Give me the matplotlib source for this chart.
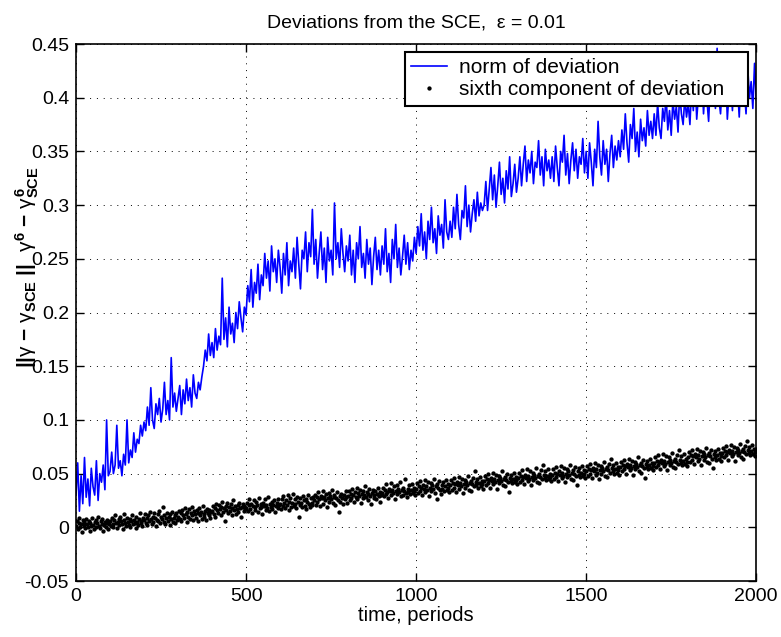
import numpy as np
import matplotlib
matplotlib.use('Agg')
import matplotlib.pyplot as plt

plt.rcParams['font.family'] = ['Liberation Sans', 'DejaVu Sans']
plt.rcParams['mathtext.fontset'] = 'custom'
plt.rcParams['mathtext.rm'] = 'Liberation Sans'
plt.rcParams['mathtext.it'] = 'Liberation Sans'
plt.rcParams['mathtext.bf'] = 'Liberation Sans:bold'

# norm of deviation, one value every 5 periods
norm_dev = [
    0.030, 0.060, 0.015, 0.048, 0.022, 0.065, 0.028, 0.045, 0.020, 0.055, 0.038, 0.030, 0.062, 0.025, 0.050, 0.042, 0.058, 0.035, 0.100, 0.048,
    0.052, 0.070, 0.050, 0.058, 0.095, 0.055, 0.062, 0.048, 0.068, 0.058, 0.100, 0.060, 0.072, 0.065, 0.088, 0.070, 0.082, 0.078, 0.095, 0.085,
    0.098, 0.090, 0.112, 0.095, 0.130, 0.100, 0.092, 0.115, 0.105, 0.120, 0.098, 0.110, 0.135, 0.105, 0.118, 0.100, 0.158, 0.112, 0.125, 0.108,
    0.120, 0.132, 0.105, 0.128, 0.115, 0.138, 0.118, 0.130, 0.112, 0.142, 0.125, 0.120, 0.135, 0.128, 0.140, 0.150, 0.165, 0.155, 0.180, 0.160,
    0.172, 0.158, 0.185, 0.165, 0.178, 0.170, 0.232, 0.175, 0.195, 0.168, 0.205, 0.180, 0.190, 0.172, 0.200, 0.185, 0.210, 0.195, 0.182, 0.205,
    0.198, 0.225, 0.210, 0.240, 0.205, 0.228, 0.218, 0.245, 0.212, 0.235, 0.225, 0.255, 0.232, 0.248, 0.220, 0.262, 0.238, 0.250, 0.228, 0.258,
    0.242, 0.218, 0.255, 0.235, 0.265, 0.225, 0.248, 0.238, 0.260, 0.232, 0.270, 0.245, 0.222, 0.258, 0.250, 0.275, 0.238, 0.265, 0.252, 0.296,
    0.245, 0.268, 0.232, 0.255, 0.275, 0.240, 0.260, 0.228, 0.270, 0.248, 0.258, 0.235, 0.302, 0.250, 0.265, 0.242, 0.278, 0.255, 0.238, 0.262,
    0.248, 0.272, 0.235, 0.258, 0.228, 0.265, 0.250, 0.280, 0.242, 0.255, 0.232, 0.268, 0.245, 0.260, 0.226, 0.252, 0.270, 0.240, 0.258, 0.235,
    0.262, 0.245, 0.278, 0.238, 0.255, 0.228, 0.268, 0.250, 0.282, 0.242, 0.260, 0.235, 0.252, 0.272, 0.245, 0.265, 0.240, 0.258, 0.248, 0.270,
    0.255, 0.280, 0.262, 0.292, 0.258, 0.275, 0.250, 0.285, 0.268, 0.298, 0.265, 0.278, 0.255, 0.290, 0.272, 0.282, 0.260, 0.305, 0.275, 0.268,
    0.285, 0.270, 0.298, 0.278, 0.310, 0.282, 0.268, 0.295, 0.288, 0.318, 0.280, 0.300, 0.275, 0.292, 0.305, 0.285, 0.312, 0.290, 0.302, 0.295,
    0.300, 0.322, 0.295, 0.315, 0.335, 0.305, 0.328, 0.298, 0.318, 0.340, 0.310, 0.325, 0.302, 0.332, 0.315, 0.345, 0.308, 0.320, 0.338, 0.312,
    0.325, 0.345, 0.318, 0.338, 0.355, 0.322, 0.342, 0.330, 0.350, 0.320, 0.340, 0.335, 0.360, 0.328, 0.345, 0.318, 0.352, 0.332, 0.342, 0.325,
    0.345, 0.322, 0.355, 0.335, 0.318, 0.350, 0.340, 0.365, 0.328, 0.348, 0.320, 0.342, 0.358, 0.332, 0.352, 0.325, 0.345, 0.338, 0.362, 0.330,
    0.350, 0.325, 0.358, 0.340, 0.318, 0.352, 0.335, 0.378, 0.345, 0.328, 0.360, 0.338, 0.352, 0.322, 0.348, 0.365, 0.335, 0.355, 0.342, 0.360,
    0.345, 0.370, 0.352, 0.385, 0.358, 0.340, 0.375, 0.362, 0.390, 0.350, 0.368, 0.345, 0.380, 0.360, 0.372, 0.355, 0.388, 0.365, 0.378, 0.362,
    0.385, 0.365, 0.395, 0.372, 0.362, 0.390, 0.378, 0.402, 0.370, 0.388, 0.365, 0.398, 0.380, 0.392, 0.368, 0.405, 0.385, 0.375, 0.400, 0.382,
    0.395, 0.375, 0.410, 0.388, 0.420, 0.380, 0.402, 0.392, 0.425, 0.385, 0.412, 0.398, 0.378, 0.415, 0.395, 0.428, 0.390, 0.446, 0.400, 0.385,
    0.412, 0.392, 0.425, 0.380, 0.405, 0.418, 0.388, 0.430, 0.398, 0.410, 0.382, 0.422, 0.395, 0.408, 0.385, 0.428, 0.400, 0.415, 0.390, 0.432,
    0.398,
]

# sixth component of deviation, one value every 2.5 periods
sixth_dev = [
    0.001, 0.006, -0.002, 0.004, 0.009, 0.000, 0.003, -0.004, 0.007, 0.002, 0.005, -0.001, 0.008, 0.003, 0.000, 0.006, -0.003, 0.004, 0.001, 0.009,
    0.002, -0.002, 0.005, 0.007, 0.000, 0.004, 0.010, 0.001, -0.001, 0.006, 0.003, 0.008, -0.003, 0.002, 0.005, 0.000, 0.007, 0.004, -0.002, 0.003,
    0.006, 0.001, 0.009, 0.003, 0.000, 0.007, 0.011, 0.004, -0.001, 0.005, 0.008, 0.002, 0.010, 0.006, 0.003, -0.002, 0.007, 0.012, 0.004, 0.001,
    0.009, 0.005, 0.002, 0.008, 0.000, 0.006, 0.011, 0.003, 0.007, 0.004, -0.001, 0.010, 0.005, 0.002, 0.008, 0.013, 0.004, 0.006, 0.001, 0.009,
    0.007, 0.012, 0.004, 0.009, 0.002, 0.011, 0.006, 0.014, 0.008, 0.003, 0.010, 0.005, 0.013, 0.009, 0.001, 0.007, 0.012, 0.006, 0.015, 0.004,
    0.010, 0.008, 0.019, 0.005, 0.011, 0.003, 0.009, 0.013, 0.006, 0.010, 0.002, 0.012, 0.008, 0.014, 0.005, 0.009, 0.011, 0.004, 0.013, 0.007,
    0.010, 0.015, 0.008, 0.013, 0.006, 0.016, 0.011, 0.009, 0.018, 0.012, 0.005, 0.014, 0.010, 0.017, 0.008, 0.013, 0.011, 0.019, 0.007, 0.015,
    0.012, 0.009, 0.016, 0.013, 0.006, 0.018, 0.011, 0.014, 0.008, 0.020, 0.012, 0.010, 0.015, 0.007, 0.017, 0.013, 0.011, 0.016, 0.009, 0.014,
    0.015, 0.020, 0.012, 0.018, 0.010, 0.022, 0.016, 0.013, 0.021, 0.017, 0.011, 0.019, 0.024, 0.014, 0.018, 0.006, 0.020, 0.016, 0.023, 0.013,
    0.019, 0.015, 0.022, 0.011, 0.018, 0.025, 0.016, 0.020, 0.012, 0.017, 0.021, 0.014, 0.023, 0.018, 0.010, 0.019, 0.022, 0.015, 0.020, 0.017,
    0.018, 0.023, 0.015, 0.021, 0.026, 0.017, 0.022, 0.013, 0.020, 0.025, 0.019, 0.016, 0.024, 0.021, 0.014, 0.027, 0.018, 0.022, 0.019, 0.012,
    0.023, 0.020, 0.026, 0.016, 0.021, 0.018, 0.028, 0.015, 0.022, 0.019, 0.024, 0.017, 0.021, 0.025, 0.014, 0.020, 0.023, 0.018, 0.026, 0.021,
    0.022, 0.017, 0.026, 0.020, 0.029, 0.023, 0.018, 0.025, 0.021, 0.030, 0.016, 0.024, 0.027, 0.019, 0.023, 0.031, 0.020, 0.026, 0.022, 0.018,
    0.028, 0.024, 0.010, 0.021, 0.027, 0.023, 0.019, 0.029, 0.025, 0.020, 0.026, 0.017, 0.024, 0.030, 0.022, 0.019, 0.027, 0.023, 0.021, 0.028,
    0.025, 0.030, 0.021, 0.028, 0.024, 0.033, 0.026, 0.020, 0.029, 0.027, 0.034, 0.022, 0.028, 0.025, 0.031, 0.019, 0.027, 0.032, 0.024, 0.029,
    0.026, 0.035, 0.023, 0.028, 0.030, 0.021, 0.027, 0.033, 0.025, 0.014, 0.029, 0.024, 0.031, 0.027, 0.022, 0.030, 0.026, 0.034, 0.028, 0.023,
    0.029, 0.034, 0.025, 0.031, 0.027, 0.036, 0.030, 0.024, 0.033, 0.028, 0.037, 0.026, 0.032, 0.029, 0.035, 0.023, 0.031, 0.034, 0.027, 0.030,
    0.038, 0.028, 0.033, 0.025, 0.031, 0.036, 0.029, 0.022, 0.032, 0.035, 0.027, 0.030, 0.034, 0.026, 0.031, 0.037, 0.029, 0.033, 0.024, 0.030,
    0.032, 0.037, 0.029, 0.035, 0.031, 0.040, 0.033, 0.027, 0.036, 0.034, 0.041, 0.030, 0.035, 0.032, 0.038, 0.026, 0.034, 0.039, 0.031, 0.036,
    0.033, 0.042, 0.029, 0.035, 0.037, 0.030, 0.034, 0.045, 0.032, 0.028, 0.036, 0.033, 0.039, 0.031, 0.035, 0.040, 0.032, 0.037, 0.034, 0.030,
    0.036, 0.041, 0.032, 0.038, 0.034, 0.043, 0.037, 0.030, 0.039, 0.036, 0.044, 0.033, 0.038, 0.035, 0.042, 0.029, 0.037, 0.041, 0.034, 0.039,
    0.036, 0.045, 0.032, 0.038, 0.040, 0.026, 0.037, 0.043, 0.035, 0.031, 0.039, 0.036, 0.042, 0.034, 0.038, 0.044, 0.035, 0.040, 0.037, 0.033,
    0.039, 0.044, 0.035, 0.041, 0.037, 0.046, 0.040, 0.033, 0.042, 0.039, 0.047, 0.036, 0.041, 0.038, 0.045, 0.032, 0.040, 0.044, 0.037, 0.042,
    0.039, 0.048, 0.035, 0.041, 0.043, 0.034, 0.040, 0.046, 0.038, 0.052, 0.042, 0.039, 0.045, 0.037, 0.041, 0.047, 0.038, 0.043, 0.040, 0.036,
    0.043, 0.048, 0.039, 0.045, 0.041, 0.050, 0.044, 0.037, 0.046, 0.043, 0.051, 0.040, 0.045, 0.042, 0.049, 0.036, 0.044, 0.048, 0.041, 0.046,
    0.043, 0.052, 0.039, 0.045, 0.047, 0.038, 0.044, 0.050, 0.042, 0.033, 0.046, 0.043, 0.049, 0.041, 0.045, 0.051, 0.042, 0.047, 0.044, 0.040,
    0.046, 0.051, 0.042, 0.048, 0.044, 0.053, 0.047, 0.040, 0.049, 0.046, 0.054, 0.043, 0.048, 0.045, 0.052, 0.039, 0.047, 0.051, 0.044, 0.049,
    0.046, 0.055, 0.042, 0.048, 0.050, 0.041, 0.047, 0.053, 0.045, 0.058, 0.049, 0.046, 0.052, 0.044, 0.048, 0.054, 0.045, 0.050, 0.047, 0.043,
    0.049, 0.054, 0.045, 0.051, 0.047, 0.056, 0.050, 0.043, 0.052, 0.049, 0.057, 0.046, 0.051, 0.048, 0.055, 0.042, 0.050, 0.054, 0.047, 0.052,
    0.049, 0.058, 0.045, 0.051, 0.053, 0.044, 0.050, 0.056, 0.048, 0.039, 0.052, 0.049, 0.055, 0.047, 0.051, 0.057, 0.048, 0.053, 0.050, 0.046,
    0.052, 0.057, 0.048, 0.054, 0.050, 0.059, 0.053, 0.046, 0.055, 0.052, 0.060, 0.049, 0.054, 0.051, 0.058, 0.045, 0.053, 0.057, 0.050, 0.055,
    0.052, 0.061, 0.048, 0.054, 0.056, 0.047, 0.053, 0.059, 0.051, 0.064, 0.055, 0.052, 0.058, 0.050, 0.054, 0.060, 0.051, 0.056, 0.053, 0.049,
    0.056, 0.061, 0.052, 0.058, 0.054, 0.063, 0.057, 0.050, 0.059, 0.056, 0.064, 0.053, 0.058, 0.055, 0.062, 0.049, 0.057, 0.061, 0.054, 0.059,
    0.056, 0.065, 0.052, 0.058, 0.060, 0.051, 0.057, 0.063, 0.055, 0.046, 0.059, 0.056, 0.062, 0.054, 0.058, 0.064, 0.055, 0.060, 0.057, 0.053,
    0.060, 0.065, 0.056, 0.062, 0.058, 0.067, 0.061, 0.054, 0.063, 0.060, 0.068, 0.057, 0.062, 0.059, 0.066, 0.053, 0.061, 0.065, 0.058, 0.063,
    0.060, 0.069, 0.056, 0.062, 0.064, 0.055, 0.061, 0.067, 0.059, 0.072, 0.063, 0.060, 0.066, 0.058, 0.062, 0.068, 0.059, 0.064, 0.061, 0.057,
    0.065, 0.070, 0.061, 0.067, 0.063, 0.072, 0.066, 0.059, 0.068, 0.065, 0.073, 0.062, 0.067, 0.064, 0.071, 0.058, 0.066, 0.070, 0.063, 0.068,
    0.065, 0.074, 0.061, 0.067, 0.069, 0.060, 0.066, 0.072, 0.064, 0.055, 0.068, 0.065, 0.071, 0.063, 0.067, 0.073, 0.064, 0.069, 0.066, 0.062,
    0.069, 0.074, 0.065, 0.071, 0.067, 0.076, 0.070, 0.063, 0.072, 0.069, 0.077, 0.066, 0.071, 0.068, 0.075, 0.062, 0.070, 0.074, 0.067, 0.072,
    0.069, 0.078, 0.065, 0.071, 0.073, 0.064, 0.070, 0.076, 0.068, 0.080, 0.072, 0.069, 0.075, 0.067, 0.071, 0.077, 0.068, 0.073, 0.070, 0.066,
    0.073,
]

t_norm = np.arange(len(norm_dev)) * 5.0
t_sixth = np.arange(len(sixth_dev)) * 2.5

xticks = [0, 500, 1000, 1500, 2000]
yticks = [-0.05, 0, 0.05, 0.1, 0.15, 0.2, 0.25, 0.3, 0.35, 0.4, 0.45]
ytick_labels = ['-0.05', '0', '0.05', '0.1', '0.15', '0.2', '0.25', '0.3', '0.35', '0.4', '0.45']

fig = plt.figure(figsize=(7.81, 6.37), dpi=100)
ax = fig.add_axes([0.0973, 0.0879, 0.871, 0.843])

ax.plot(t_norm, norm_dev, color='#0000ff', lw=1.2, label='norm of deviation')
ax.plot(t_sixth, sixth_dev, linestyle='none', marker='.', color='black', markersize=4.2,
        label='sixth component of deviation   ')

ax.set_xlim(0, 2000)
ax.set_ylim(-0.05, 0.45)
ax.set_xticks(xticks)
ax.set_yticks(yticks)
ax.set_yticklabels(ytick_labels)
ax.tick_params(direction='in', length=6, width=1, labelsize=14, top=True, right=True, pad=5)
ax.grid(True, linestyle=(0, (1, 6)), color='black', linewidth=0.7)
for s in ax.spines.values():
    s.set_linewidth(1.2)

ax.set_title('Deviations from the SCE,  \u03b5 = 0.01', fontsize=14, pad=12)
ax.set_xlabel('time, periods', fontsize=14.5, labelpad=1)
ax.set_ylabel(r'$\mathbf{||}\gamma\ \mathbf{-}\ \gamma_{\mathbf{SCE}}\ \mathbf{||}\ \ \gamma^{\mathbf{6}}\ \mathbf{-}\ \gamma^{\mathbf{6}}_{\mathbf{SCE}}$',
              fontsize=15)
ax.yaxis.set_label_coords(-0.052, 0.585)

leg = ax.legend(loc='upper right', bbox_to_anchor=(0.988, 0.985), borderaxespad=0,
                fancybox=False, framealpha=1, edgecolor='black', fontsize=15,
                handlelength=1.7, handletextpad=0.6, borderpad=0.3, labelspacing=0.15,
                markerscale=1.0)
leg.get_frame().set_linewidth(1.5)

fig.savefig('out.png', dpi=100)
